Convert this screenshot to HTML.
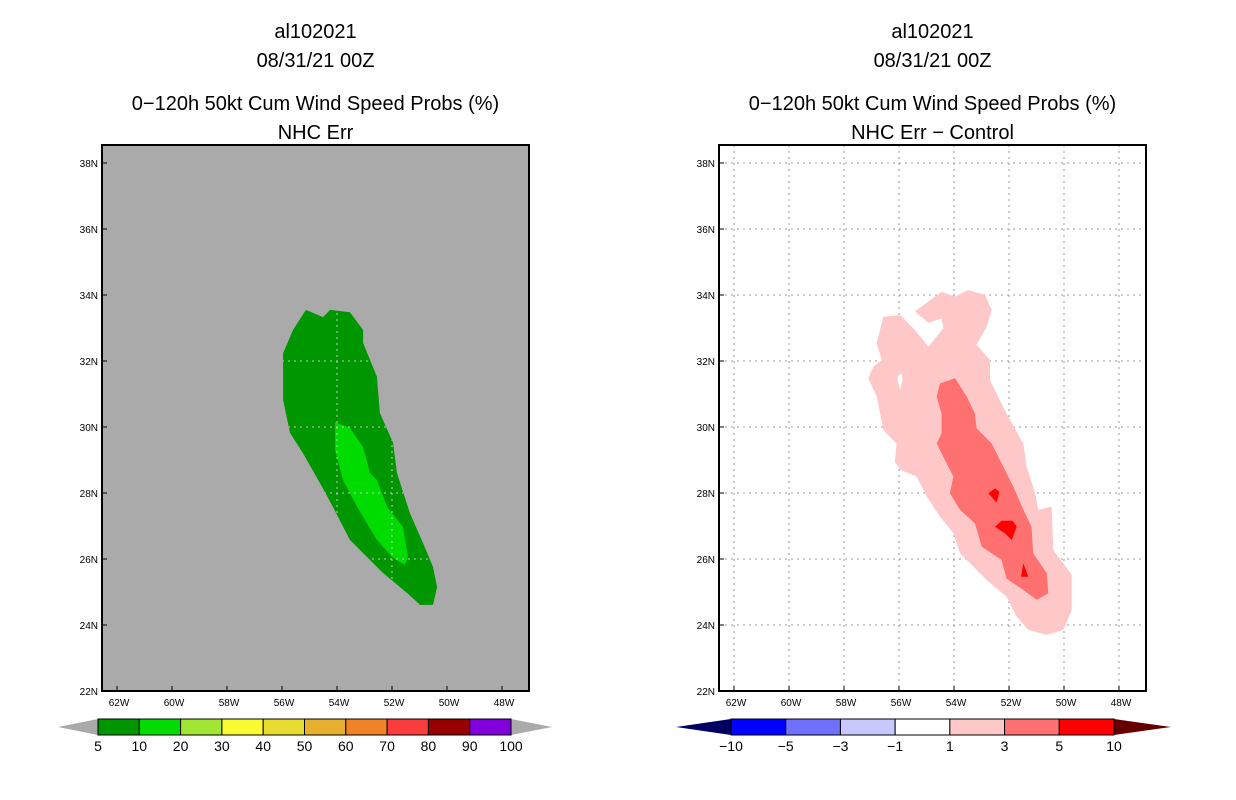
<!DOCTYPE html>
<html><head><meta charset="utf-8"><style>
body{margin:0;background:#fff;}
svg{display:block;font-family:"Liberation Sans",sans-serif;}
</style></head><body>
<svg id="s" width="1236" height="800" viewBox="0 0 1236 800"></svg>
<script>
// axis ticks
const lonTicks=[62,60,58,56,54,52,50,48];
const latTicks=[38,36,34,32,30,28,26,24,22];
// left panel: cumulative probability contours (lon W, lat N)
const probOuter=[[55.13,33.55],[54.51,33.33],[54.25,33.55],[53.53,33.48],[53.05,32.94],[53.05,32.55],[52.55,31.52],[52.44,30.42],[51.96,29.52],[51.82,28.61],[51.35,27.39],[50.87,26.48],[50.51,25.76],[50.36,25.15],[50.51,24.61],[50.98,24.61],[51.45,24.97],[52.33,25.58],[52.80,25.97],[53.53,26.58],[54.15,27.58],[54.62,28.30],[55.24,29.21],[55.71,29.82],[55.96,30.82],[55.96,32.24],[55.60,32.94]];
const probInner=[[54.07,30.15],[53.53,29.97],[53.05,29.39],[52.80,28.61],[52.55,28.39],[52.18,27.58],[51.60,26.97],[51.42,26.06],[51.53,25.82],[51.96,26.03],[52.55,26.58],[53.27,27.58],[53.78,28.39],[54.07,29.30]];
// right panel: difference contours
const diffOuter=[[54.45,34.10],[53.96,33.95],[53.48,34.15],[52.87,34.0],[52.63,33.55],[52.81,33.04],[53.18,32.49],[52.69,32.03],[52.69,31.42],[52.09,30.41],[51.48,29.50],[51.36,28.80],[51.05,27.99],[50.93,27.49],[50.45,27.59],[50.39,26.27],[49.72,25.52],[49.72,24.45],[50.02,23.85],[50.63,23.70],[51.30,23.85],[51.72,24.25],[52.09,24.86],[52.81,25.36],[53.30,25.77],[53.78,26.17],[54.02,26.78],[54.51,27.28],[54.99,27.89],[55.36,28.50],[55.96,28.70],[56.15,28.95],[56.09,29.50],[56.57,29.91],[56.81,30.92],[57.12,31.48],[56.93,31.83],[56.63,32.03],[56.81,32.54],[56.57,33.34],[55.96,33.39],[55.42,32.94],[54.93,32.43],[54.39,32.99],[54.45,33.29],[54.93,33.16],[55.42,33.50]];
const diffHole=[[56.06,31.53],[55.90,31.63],[55.87,31.42],[55.96,31.12],[56.02,31.32]];
const diffMid=[[54.51,31.32],[53.96,31.48],[53.54,30.92],[53.24,30.41],[53.18,29.96],[52.63,29.50],[52.21,28.80],[51.84,28.19],[51.48,27.49],[51.18,26.98],[51.12,26.17],[50.63,25.57],[50.57,24.96],[50.99,24.76],[51.48,25.06],[52.09,25.41],[52.27,25.97],[52.99,26.37],[53.24,27.08],[53.78,27.49],[54.15,27.99],[54.02,28.50],[54.33,29.00],[54.63,29.50],[54.45,29.81],[54.45,30.41],[54.63,30.92]];
const diffHigh1=[[52.75,27.99],[52.51,28.14],[52.35,28.04],[52.45,27.71]];
const diffHigh2=[[52.51,26.98],[52.27,27.16],[51.87,27.16],[51.72,26.98],[51.90,26.58],[52.15,26.78]];
const diffHigh3=[[51.48,25.87],[51.30,25.46],[51.56,25.46]];
const probLabels=["5","10","20","30","40","50","60","70","80","90","100"];
const probColors=["#009600","#00dc00","#a0e632","#fafa32","#e6dc32","#e6af2d","#f08228","#fa3c3c","#960000","#8200dc"];
const diffLabels=["−10","−5","−3","−1","1","3","5","10"];
const diffColors=["#0000ff","#7070ff","#c8c8ff","#ffffff","#ffc8c8","#ff7070","#ff0000"];

const svg=document.getElementById('s');
const NS='http://www.w3.org/2000/svg';
function el(t,a,p){const e=document.createElementNS(NS,t);for(const k in a)e.setAttribute(k,a[k]);(p||svg).appendChild(e);return e;}
function mk(off){return {x:w=>off+117+(62-w)*27.5, y:l=>691-(l-22)*33};}
function pts(P,arr){return arr.map(p=>P.x(p[0]).toFixed(1)+','+P.y(p[1]).toFixed(1)).join(' ');}
function poly(P,arr,fill,name,parent){const e=el('polygon',{points:pts(P,arr),fill:fill},parent);

return e;}
function txt(x,y,s,size,anchor,name){const e=el('text',{x:x,y:y,'font-size':size,'text-anchor':anchor||'middle',fill:'#000'});e.textContent=s;

return e;}

function panel(off,bg,titles){
  const P=mk(off);const x0=102+off,x1=529+off;
  const cx=(x0+x1)/2;
  txt(cx,38,titles[0],20,'middle','title-storm');
  txt(cx,67,titles[1],20,'middle','title-date');
  txt(cx,110,titles[2],20,'middle','title-product');
  txt(cx,139,titles[3],20,'middle','title-field');
  const bgr=el('rect',{x:x0,y:145,width:x1-x0,height:546,fill:bg});
  
  
  return P;
}
function grid(P,off,col,clip){
  const x0=102+off,x1=529+off;
  const g=el('g',clip?{'clip-path':'url(#'+clip+')'}:{});
  
  lonTicks.forEach(w=>{const l=el('line',{x1:P.x(w),x2:P.x(w),y1:145,y2:691,stroke:col,'stroke-dasharray':'2,4'},g);
  });
  latTicks.forEach(a=>{if(a<=22)return;const l=el('line',{x1:x0,x2:x1,y1:P.y(a),y2:P.y(a),stroke:col,'stroke-dasharray':'2,4'},g);
  });
}
function axes(P,off){
  const x0=102+off,x1=529+off;
  const fr=el('rect',{x:x0,y:145,width:x1-x0,height:546,fill:'none',stroke:'#000','stroke-width':2});
  
  lonTicks.forEach(w=>{txt(P.x(w)+2,706,w+'W',10,'middle','lon-tick-label');
    el('line',{x1:P.x(w),x2:P.x(w),y1:691,y2:686,stroke:'#000'});});
  latTicks.forEach(a=>{txt(x0-4,P.y(a)+4,a+'N',10,'end','lat-tick-label');
    el('line',{x1:x0,x2:x0+5,y1:P.y(a),y2:P.y(a),stroke:'#000'});});
}
// left
let P=panel(0,'#aaaaaa',['al102021','08/31/21 00Z','0−120h 50kt Cum Wind Speed Probs (%)','NHC Err']);
const defs=el('defs',{});
const cp=el('clipPath',{id:'greenclip'},defs);
el('polygon',{points:pts(P,probOuter)},cp);
poly(P,probOuter,'#009600','prob-5-10-area');
poly(P,probInner,'#00dc00','prob-10-20-area');
grid(P,0,'#c8c8c8','greenclip');axes(P,0);
// right
P=panel(617,'#ffffff',['al102021','08/31/21 00Z','0−120h 50kt Cum Wind Speed Probs (%)','NHC Err − Control']);
grid(P,617,'#999999');
poly(P,diffOuter,'#ffc8c8','diff-1-3-area');
poly(P,diffHole,'#ffffff','diff-hole');
poly(P,diffMid,'#ff7070','diff-3-5-area');
poly(P,diffHigh1,'#ff0000','diff-5-10-area');
poly(P,diffHigh2,'#ff0000','diff-5-10-area');
poly(P,diffHigh3,'#ff0000','diff-5-10-area');
axes(P,617);

function colorbar(x0,x1,tl,tr,cols,labels,lc,rc,name){
  const g=el('g',{});
  const y0=719,y1=735,w=(x1-x0)/cols.length;
  el('polygon',{points:`${tl},727 ${x0},${y0} ${x0},${y1}`,fill:lc},g);
  el('polygon',{points:`${tr},727 ${x1},${y0} ${x1},${y1}`,fill:rc},g);
  cols.forEach((c,i)=>{el('rect',{x:x0+i*w,y:y0,width:w,height:y1-y0,fill:c,stroke:'#000','stroke-width':1},g);});
  labels.forEach((s,i)=>{const t=txt(x0+i*w,751,s,14,'middle','colorbar-label');g.appendChild(t);});
}
colorbar(98,511,58,552,probColors,probLabels,'#aaaaaa','#aaaaaa','prob-colorbar');
colorbar(731,1114,676,1171,diffColors,diffLabels,'#000064','#640000','diff-colorbar');
</script>
</body></html>
